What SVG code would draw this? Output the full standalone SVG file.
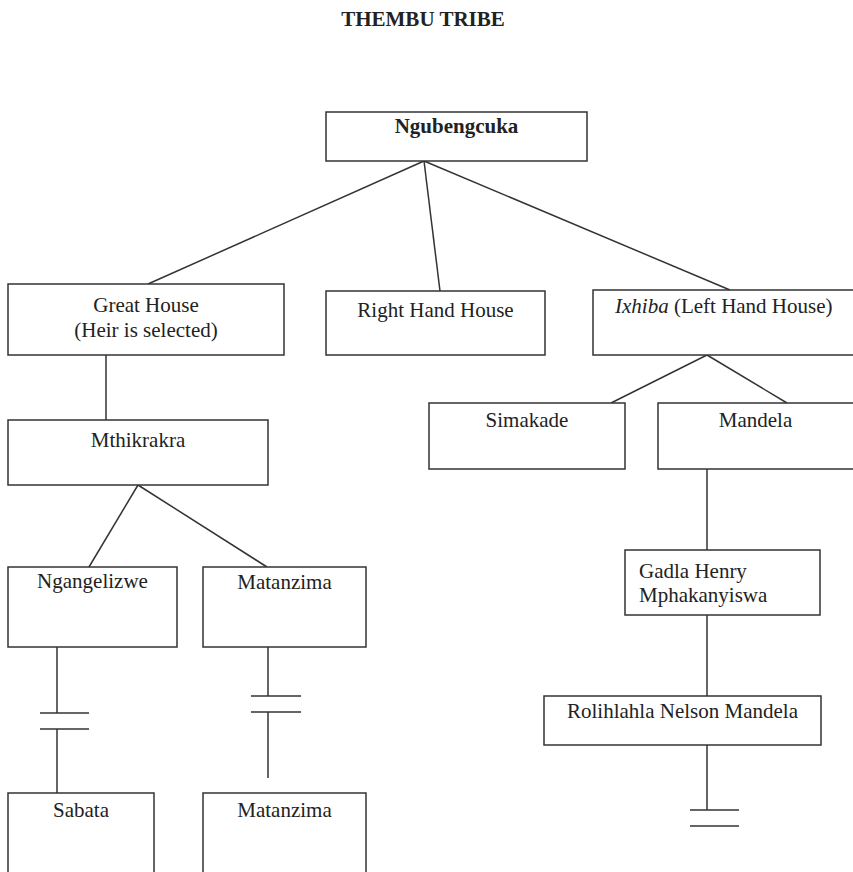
<svg xmlns="http://www.w3.org/2000/svg" width="853" height="872" viewBox="0 0 853 872">
<style>
rect{fill:#fff;stroke:#333;stroke-width:1.5}
line{stroke:#333;stroke-width:1.5}
text{font-family:"Liberation Serif","Times New Roman",serif;font-size:21px;fill:#222}
.c{text-anchor:middle}
.b{font-weight:bold}
</style>
<rect x="0" y="0" width="853" height="872" style="stroke:none"/>
<text id="title" class="c b" x="423" y="26">THEMBU TRIBE</text>
<g id="connectors">
<line x1="424" y1="161" x2="148" y2="284"/>
<line x1="424" y1="161" x2="440" y2="291"/>
<line x1="424" y1="161" x2="730" y2="290"/>
<line x1="106" y1="355" x2="106" y2="420"/>
<line x1="138" y1="485" x2="89" y2="567"/>
<line x1="138" y1="485" x2="267" y2="567"/>
<line x1="57" y1="647" x2="57" y2="713"/>
<line x1="40" y1="713" x2="89" y2="713"/>
<line x1="40" y1="729" x2="89" y2="729"/>
<line x1="57" y1="729" x2="57" y2="793"/>
<line x1="268" y1="647" x2="268" y2="696"/>
<line x1="251" y1="696" x2="301" y2="696"/>
<line x1="251" y1="712" x2="301" y2="712"/>
<line x1="268" y1="712" x2="268" y2="778"/>
<line x1="707" y1="355" x2="611" y2="403"/>
<line x1="707" y1="355" x2="787" y2="403"/>
<line x1="707" y1="469" x2="707" y2="550"/>
<line x1="707" y1="615" x2="707" y2="696"/>
<line x1="707" y1="745" x2="707" y2="810"/>
<line x1="690" y1="810" x2="739" y2="810"/>
<line x1="690" y1="826" x2="739" y2="826"/>
</g>
<g id="ngubengcuka"><rect x="326" y="112" width="261" height="49"/><text class="c b" x="456.5" y="133">Ngubengcuka</text></g>
<g id="great-house"><rect x="8" y="284" width="276" height="71"/><text class="c" x="146" y="312">Great House</text><text class="c" x="146" y="337">(Heir is selected)</text></g>
<g id="right-hand-house"><rect x="326" y="291" width="219" height="64"/><text class="c" x="435.5" y="317">Right Hand House</text></g>
<g id="ixhiba"><rect x="593" y="290" width="270" height="65"/><text x="615" y="313"><tspan font-style="italic">Ixhiba</tspan> (Left Hand House)</text></g>
<g id="mthikrakra"><rect x="8" y="420" width="260" height="65"/><text class="c" x="138" y="447">Mthikrakra</text></g>
<g id="simakade"><rect x="429" y="403" width="196" height="66"/><text class="c" x="527" y="427">Simakade</text></g>
<g id="mandela"><rect x="658" y="403" width="205" height="66"/><text class="c" x="755.5" y="427">Mandela</text></g>
<g id="ngangelizwe"><rect x="8" y="567" width="169" height="80"/><text class="c" x="92.5" y="588">Ngangelizwe</text></g>
<g id="matanzima-1"><rect x="203" y="567" width="163" height="80"/><text class="c" x="284.5" y="589">Matanzima</text></g>
<g id="gadla"><rect x="625" y="550" width="195" height="65"/><text x="639" y="578">Gadla Henry</text><text x="639" y="602">Mphakanyiswa</text></g>
<g id="rolihlahla"><rect x="544" y="696" width="277" height="49"/><text class="c" x="682.5" y="718">Rolihlahla Nelson Mandela</text></g>
<g id="sabata"><rect x="8" y="793" width="146" height="100"/><text class="c" x="81" y="817">Sabata</text></g>
<g id="matanzima-2"><rect x="203" y="793" width="163" height="100"/><text class="c" x="284.5" y="817">Matanzima</text></g>
</svg>
